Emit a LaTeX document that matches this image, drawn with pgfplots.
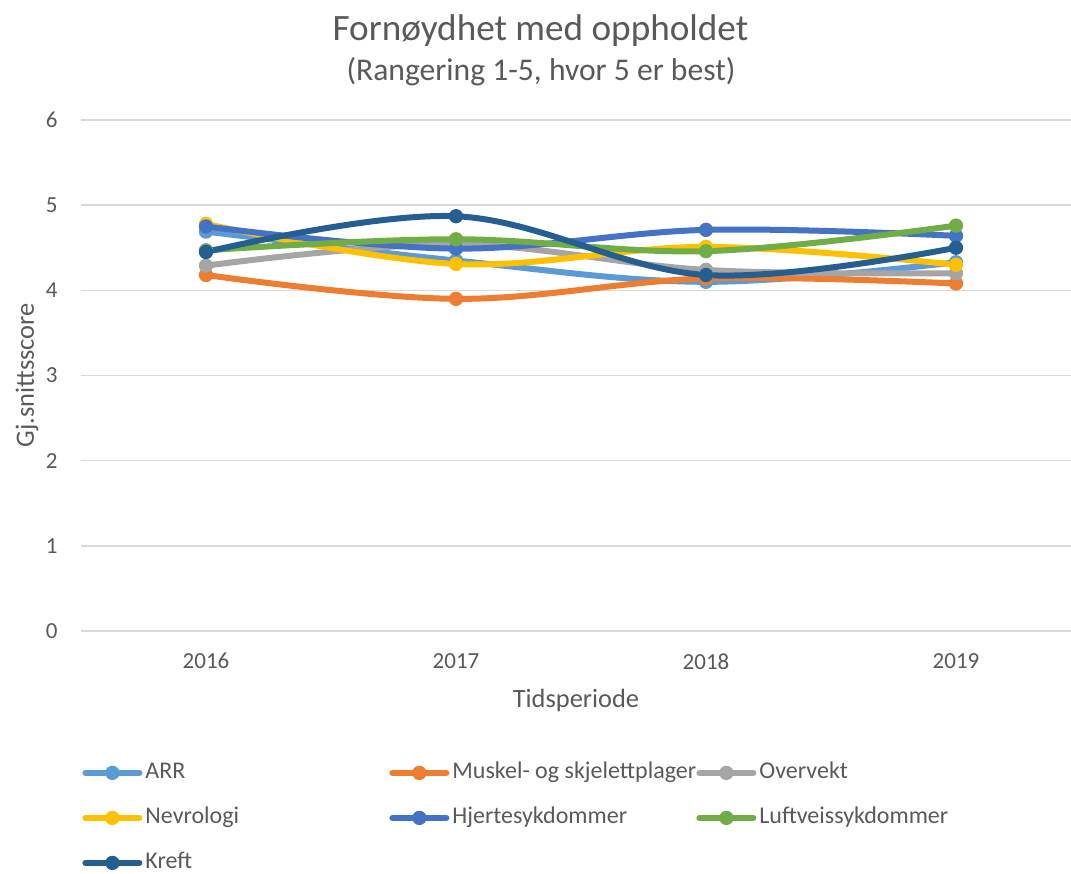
\documentclass[border=0pt]{standalone}
\usepackage{fontspec}
\setmainfont{Carlito}
\usepackage{pgfplots}
\pgfplotsset{compat=1.18}

\definecolor{txt}{HTML}{595959}
\definecolor{gridc}{HTML}{D9D9D9}
\definecolor{arr}{HTML}{5B9BD5}
\definecolor{musk}{HTML}{ED7D31}
\definecolor{over}{HTML}{A5A5A5}
\definecolor{nevr}{HTML}{FFC000}
\definecolor{hjer}{HTML}{4472C4}
\definecolor{luft}{HTML}{70AD47}
\definecolor{kref}{HTML}{255E91}

\newcommand{\lentry}[1]{\makebox[122pt][l]{#1}}

\begin{document}
\begin{tikzpicture}
\begin{axis}[
    at={(0,0)}, anchor=south west,
    scale only axis,
    width=495pt, height=255.5pt,
    xmin=-0.5, xmax=3.46,
    ymin=0, ymax=6,
    ytick={0,1,2,3,4,5,6},
    xtick={0,1,2,3},
    xticklabels={2016,2017,2018,2019},
    major tick length=0pt,
    axis line style={draw=none},
    ymajorgrids,
    major grid style={gridc, line width=0.75pt},
    clip=false,
    font=\fontsize{11.5pt}{13pt}\selectfont,
    tick label style={txt},
    /pgf/number format/assume math mode=true,
    yticklabel style={inner sep=0pt, xshift=-11.5pt},
    xticklabel style={inner sep=0pt, yshift=-11pt},
    xlabel={Tidsperiode},
    ylabel={Gj.snittsscore},
    label style={txt, font=\fontsize{13.2pt}{15pt}\selectfont},
    xlabel style={at={(axis description cs:0.5,0)}, anchor=center, yshift=-34.5pt},
    ylabel style={at={(axis description cs:0,0.5)}, anchor=center, yshift=27pt},
    every axis plot/.append style={line width=3pt, smooth, tension=0.6, mark=*, mark size=3.2pt, mark options={solid, line width=0.75pt}},
    legend columns=3,
    legend cell align=left,
    legend style={draw=none, fill=none, at={(axis description cs:0,0)}, anchor=north west,
        xshift=0.5pt, yshift=-65.5pt, inner sep=0pt, row sep=12pt,
        font=\fontsize{12pt}{14pt}\selectfont, text=txt,
        nodes={inner sep=0pt, text height=8pt, text depth=2.5pt},
        /tikz/every odd column/.append style={column sep=1.5pt}},
    legend image code/.code={\draw[mark repeat=2, mark phase=2, line cap=round] plot coordinates {(1.5pt,0pt) (15pt,0pt) (28.5pt,0pt)};},
]
\addplot[arr]  coordinates {(0,4.69) (1,4.35) (2,4.10) (3,4.33)};
\addlegendentry{\lentry{ARR}}
\addplot[musk] coordinates {(0,4.18) (1,3.90) (2,4.14) (3,4.08)};
\addlegendentry{\lentry{Muskel- og skjelettplager}}
\addplot[over] coordinates {(0,4.29) (1,4.54) (2,4.24) (3,4.20)};
\addlegendentry{Overvekt}
\addplot[nevr] coordinates {(0,4.78) (1,4.31) (2,4.51) (3,4.30)};
\addlegendentry{\lentry{Nevrologi}}
\addplot[hjer] coordinates {(0,4.75) (1,4.49) (2,4.71) (3,4.64)};
\addlegendentry{\lentry{Hjertesykdommer}}
\addplot[luft] coordinates {(0,4.47) (1,4.60) (2,4.46) (3,4.76)};
\addlegendentry{Luftveissykdommer}
\addplot[kref] coordinates {(0,4.45) (1,4.87) (2,4.18) (3,4.50)};
\addlegendentry{\lentry{Kreft}}
\end{axis}
\node[txt, font=\fontsize{18.6pt}{22pt}\selectfont] at (229.75pt,300pt) {Fornøydhet med oppholdet};
\node[txt, font=\fontsize{15.8pt}{19pt}\selectfont] at (230pt,279.5pt) {(Rangering 1-5, hvor 5 er best)};
\pgfresetboundingbox
\path[use as bounding box] (-40.5pt,-121pt) rectangle (495pt,315.5pt);
\end{tikzpicture}
\end{document}
